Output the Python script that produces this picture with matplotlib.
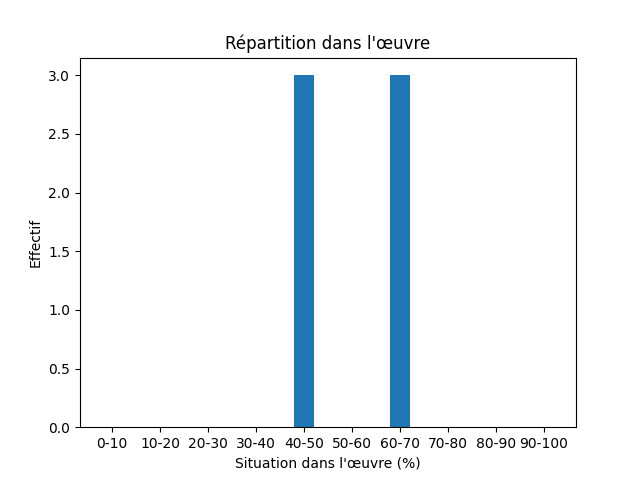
import matplotlib
matplotlib.use("Agg")
import matplotlib.pyplot as plt

categories = ["0-10", "10-20", "20-30", "30-40", "40-50", "50-60", "60-70", "70-80", "80-90", "90-100"]
values = [0, 0, 0, 0, 3, 0, 3, 0, 0, 0]

fig, ax = plt.subplots(figsize=(6.4, 4.8), dpi=100)
ax.bar(categories, values, width=0.4, color="#1f77b4")
ax.set_title("Répartition dans l'œuvre")
ax.set_xlabel("Situation dans l'œuvre (%)")
ax.set_ylabel("Effectif")
fig.savefig("out.png")
